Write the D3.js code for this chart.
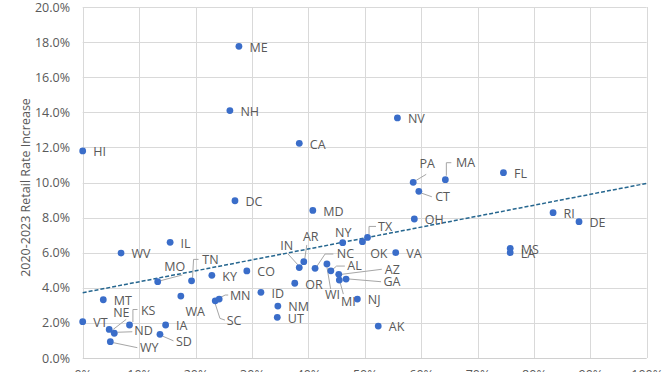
<!DOCTYPE html>
<html><head><meta charset="utf-8">
<script src="https://cdn.jsdelivr.net/npm/d3@7/dist/d3.min.js"></script>
<style>
html,body{margin:0;padding:0;background:#fff;}
svg{display:block;font-family:"Open Sans",sans-serif;}
</style></head>
<body><svg id="c" width="672" height="372"></svg>
<script>
// ---- data ----
const states = ["HI","VT","ME","NH","CA","NV","DC","MD","PA","MA","CT","FL","OH","TX","NY","OK","VA","RI","DE","MS","LA","IL","WV","MO","TN","KY","CO","IN","AR","NC","AL","AZ","GA","WI","MI","NJ","OR","ID","NM","UT","AK","MN","SC","WA","MT","KS","NE","ND","WY","IA","SD"];
const xValues = [0,0,27.7,26.1,38.4,55.8,27.0,40.8,58.6,64.3,59.6,74.6,58.8,50.5,46.1,49.6,55.5,83.4,88.0,75.8,75.8,15.5,6.8,13.3,19.3,22.9,29.1,38.4,39.2,41.2,44.0,45.4,46.7,43.3,45.5,48.7,37.6,31.6,34.6,34.5,52.4,24.2,23.5,17.4,3.65,8.3,4.7,5.6,4.9,14.7,13.7];
const rateIncrease = [11.8,2.07,17.76,14.1,12.23,13.68,8.96,8.41,10.01,10.16,9.5,10.56,7.92,6.87,6.57,6.63,6.0,8.28,7.77,6.25,6.0,6.59,5.98,4.35,4.4,4.71,4.96,5.15,5.49,5.11,4.97,4.77,4.5,5.36,4.44,3.36,4.26,3.74,2.96,2.32,1.82,3.36,3.26,3.53,3.32,1.88,1.63,1.41,0.93,1.88,1.35];
// linear trendline: value at x = 0 and x = 100
const trendX = [0,100];
const trendY = [3.72,9.95];
const yTicks = [0,2,4,6,8,10,12,14,16,18,20];
const xTicks = [0,10,20,30,40,50,60,70,80,90,100];
const yTitle = "2020-2023 Retail Rate Increase";

// ---- label layout (offsets from dot, px) ----
const labelLayout = {
  PA:{dx:14,dy:-19,a:"middle",l:[[3,-2],[13,-8]]},
  MA:{dx:10.7,dy:-17,l:[[1,-4],[1,-17],[6,-17]]},
  CT:{dx:16.3,dy:5.4,l:[[3,2],[13,5.5]]},
  TX:{dx:10.6,dy:-10.6,l:[[1.5,-3],[1.5,-11],[8.5,-11]]},
  NY:{dx:0.6,dy:-10.5,a:"middle"},
  OK:{dx:7.7,dy:12.3},
  MO:{dx:6.6,dy:-15,l:[[3,-1],[24.6,-6.7]]},
  TN:{dx:10.7,dy:-21.4,l:[[1,-3],[2,-21.4],[7,-21.4]]},
  WA:{dx:4.7,dy:15},
  KS:{dx:11.4,dy:-15,l:[[3.4,-3],[3.4,-15.5],[8,-15.5]]},
  NE:{dx:4,dy:-16.6,l:[[4,0],[17,-10]]},
  ND:{dx:20,dy:-2.3,l:[[3,-1],[18,-1.5]]},
  WY:{dx:29.7,dy:6,l:[[3,1],[27,6]]},
  SD:{dx:16,dy:6.7,l:[[3,2],[13.5,6.5]]},
  MN:{dx:10.7,dy:-4,l:[[2,-2],[6,-4],[9,-4]]},
  SC:{dx:11.4,dy:19.3,l:[[0,3],[4.7,17.6],[9.7,19.3]]},
  IN:{dx:-6,dy:-22,a:"end",l:[[-1.3,-2.7],[-11.3,-13.7]]},
  AR:{dx:7,dy:-25,a:"middle",l:[[1,-3],[3,-16.7]]},
  NC:{dx:21.7,dy:-15,l:[[2,-2.3],[10,-14.3],[18.3,-14.3]]},
  AL:{dx:16.5,dy:-5.4,l:[[2,-1.5],[5.7,-4.7],[14,-4.7]]},
  WI:{dx:-2,dy:31,l:[[0,3],[3.7,25]]},
  MI:{dx:1.7,dy:21,l:[[1,3],[4,14]]},
  AZ:{dx:46,dy:-5,l:[[3,0],[43,-5]]},
  GA:{dx:37.3,dy:2.7,l:[[3,0],[35,2.7]]}
};

const svg = d3.select("#c");
const x = d3.scaleLinear().domain([0,100]).range([82.7,646.7]);
const y = d3.scaleLinear().domain([0,20]).range([358,7]);
const grey = "#595959";

// gridlines
svg.append("g").selectAll("line").data(yTicks.slice(1)).join("line")
  .attr("x1",x(0)).attr("x2",x(100)).attr("y1",d=>Math.round(y(d))+0.5).attr("y2",d=>Math.round(y(d))+0.5)
  .attr("stroke","#d9d9d9").attr("stroke-width",1);
svg.append("g").selectAll("line").data(xTicks).join("line")
  .attr("y1",y(0)).attr("y2",y(20)).attr("x1",d=>Math.round(x(d))+0.5).attr("x2",d=>Math.round(x(d))+0.5)
  .attr("stroke","#d9d9d9").attr("stroke-width",1);
// bottom axis line
svg.append("line").attr("x1",x(0)).attr("x2",x(100)).attr("y1",Math.round(y(0))+0.5).attr("y2",Math.round(y(0))+0.5)
  .attr("stroke","#d0d0d0").attr("stroke-width",1);

// y axis tick labels
const yAxis = d3.axisLeft(y).tickValues(yTicks).tickFormat(d=>d.toFixed(1)+"%").tickSize(0).tickPadding(0);
const ya = svg.append("g").attr("transform","translate(70,0)").call(yAxis);
ya.select(".domain").remove();
ya.selectAll("text").attr("fill",grey).style("font-size","12.5px").style("font-family","Open Sans");

// x axis tick labels (cut off by canvas, as in the reference)
const xAxis = d3.axisBottom(x).tickValues(xTicks).tickFormat(d=>d+"%").tickSize(0).tickPadding(0);
const xa = svg.append("g").attr("transform","translate(0,370)").call(xAxis);
xa.select(".domain").remove();
xa.selectAll("text").attr("fill",grey).attr("dy","0.71em").style("font-size","12.5px").style("font-family","Open Sans");

// y title
svg.append("text").attr("transform","translate(25,"+((y(0)+y(20))/2+5)+") rotate(-90)")
  .attr("text-anchor","middle").attr("dominant-baseline","central").attr("fill",grey)
  .style("font-size","12.5px").text(yTitle);

// trendline
svg.append("line").attr("x1",x(trendX[0])).attr("x2",x(trendX[1]))
  .attr("y1",y(trendY[0])).attr("y2",y(trendY[1]))
  .attr("stroke","#25668f").attr("stroke-width",1.5).attr("stroke-dasharray","4,2");

const data = states.map((s,i)=>({s,x:x(xValues[i]),y:y(rateIncrease[i])}));

// leaders
svg.append("g").selectAll("polyline").data(data.filter(d=>labelLayout[d.s]&&labelLayout[d.s].l)).join("polyline")
  .attr("points",d=>labelLayout[d.s].l.map(p=>(d.x+p[0])+","+(d.y+p[1])).join(" "))
  .attr("fill","none").attr("stroke","#a6a6a6").attr("stroke-width",1);

// dots
svg.append("g").selectAll("circle").data(data).join("circle")
  .attr("cx",d=>d.x).attr("cy",d=>d.y).attr("r",3.4).attr("fill","#3a6dc9");

// labels
svg.append("g").selectAll("text").data(data).join("text")
  .attr("x",d=>d.x+((labelLayout[d.s]||{}).dx ?? 10.5))
  .attr("y",d=>d.y+((labelLayout[d.s]||{}).dy ?? 0.8))
  .attr("dy","0.36em")
  .attr("text-anchor",d=>(labelLayout[d.s]||{}).a||"start")
  .attr("fill",grey).style("font-size","12.5px").text(d=>d.s);
</script></body></html>
